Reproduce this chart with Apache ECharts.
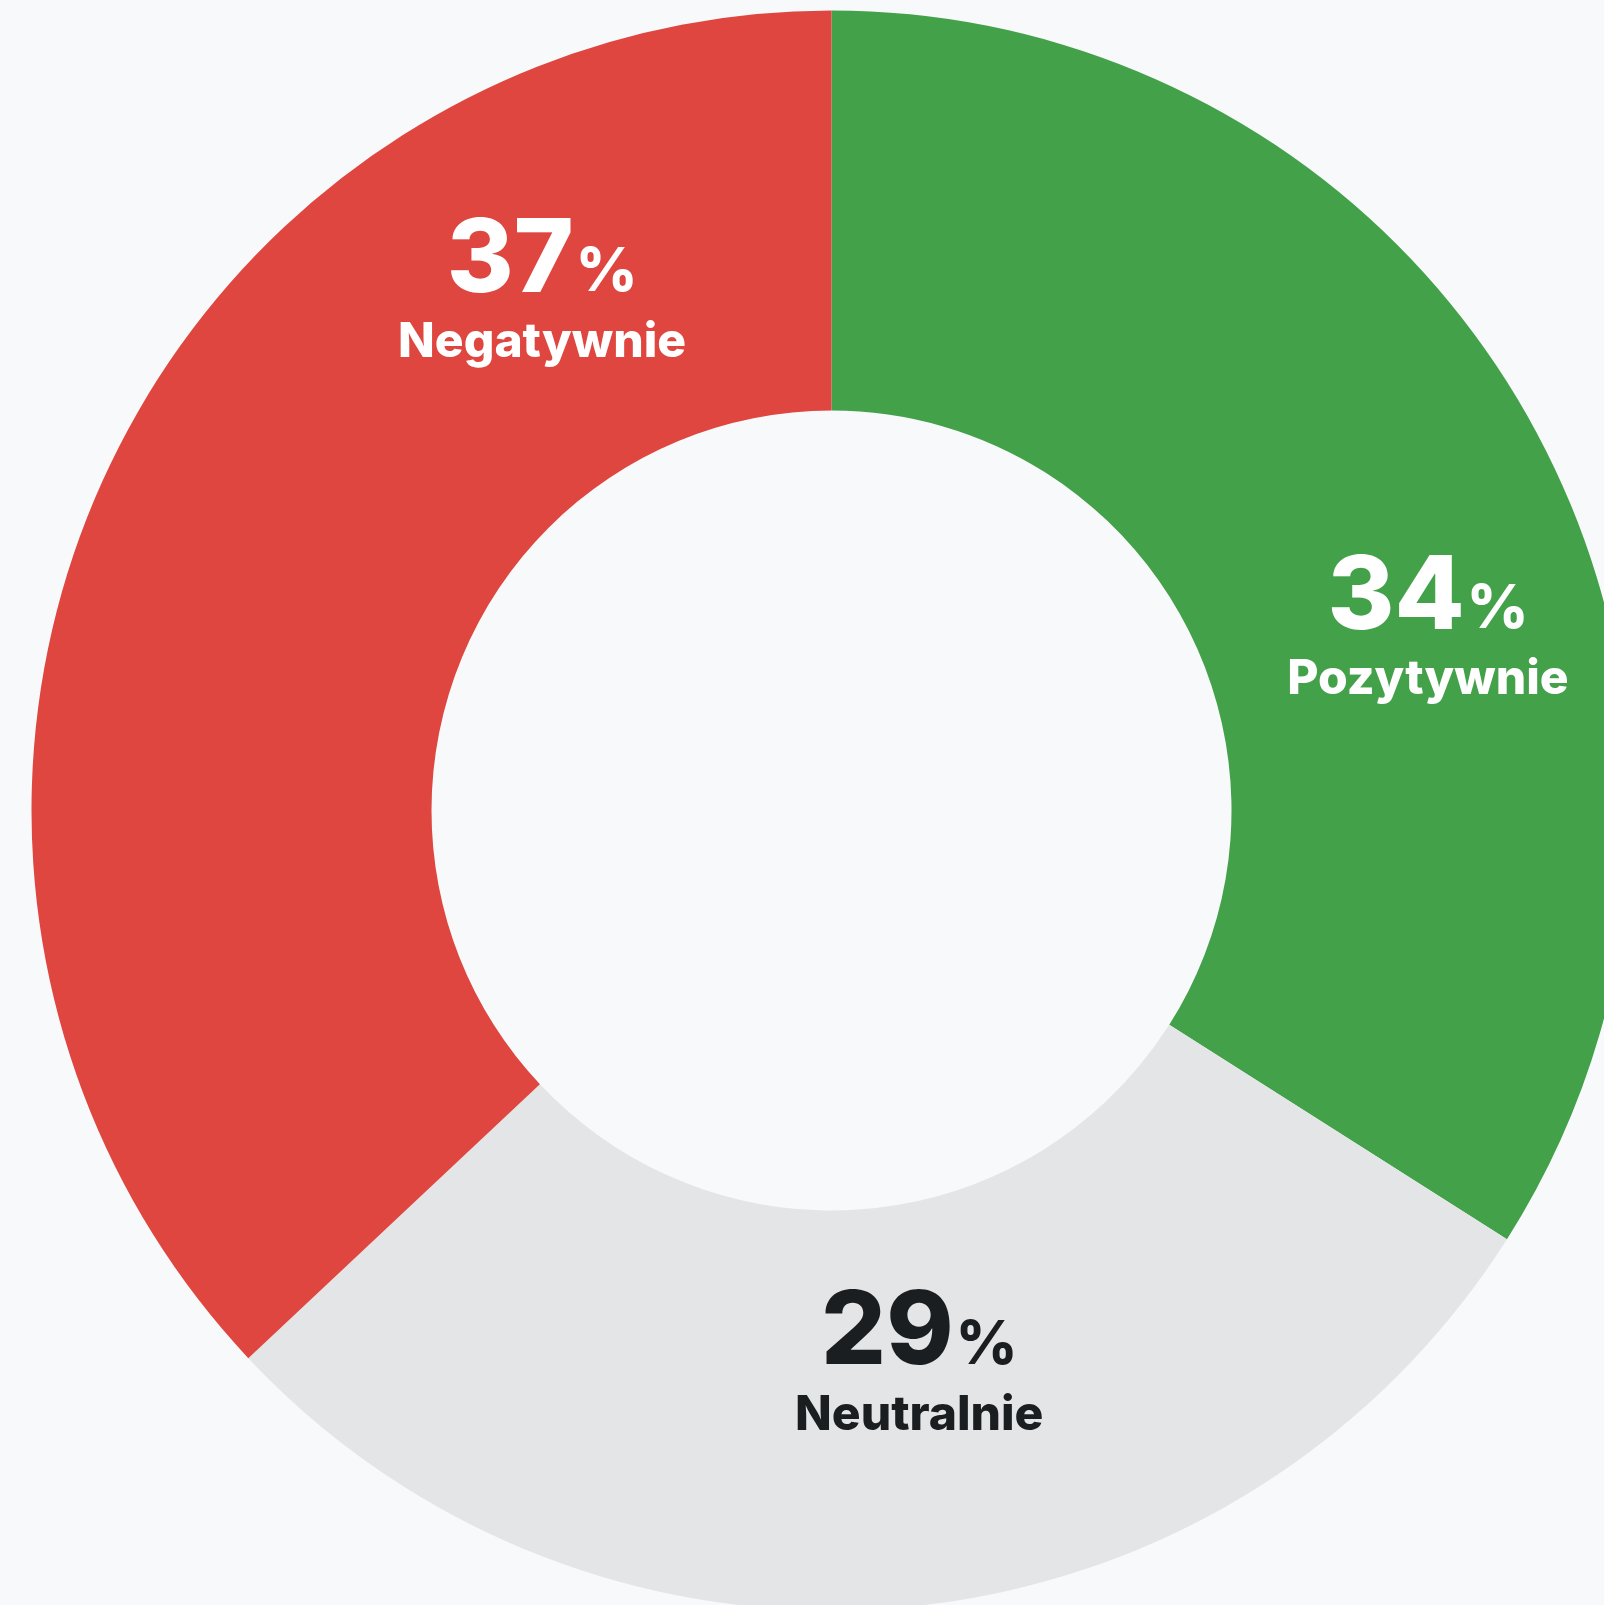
<!DOCTYPE html>
<html>
<head>
<meta charset="utf-8">
<script src="https://cdn.jsdelivr.net/npm/echarts@6/dist/echarts.min.js"></script>
<style>
  html, body { margin: 0; padding: 0; background: #f8f9fa; }
  #chart { width: 1604px; height: 1605px; }
</style>
</head>
<body>
<div id="chart"></div>
<script>
// ---- data ----
const categories = ['Pozytywnie', 'Neutralnie', 'Negatywnie'];
const values = [34, 29, 37];
const colors = ['#43a149', '#e4e5e7', '#df463f'];
const labelColors = ['#ffffff', '#1b1e21', '#ffffff'];

// ---- label placement tweaks (pixels, relative to default inside position) ----
const labelOffsets = [[68, 110], [31, -45], [264, -278]];

const chart = echarts.init(document.getElementById('chart'), null, { renderer: 'canvas' });

const seriesData = categories.map((name, i) => ({
  name: name,
  value: values[i],
  itemStyle: { color: colors[i] },
  label: { color: labelColors[i] }
}));

const font = 'Inter, "Noto Sans", sans-serif';

chart.setOption({
  backgroundColor: '#f8f9fa',
  animation: false,
  series: [{
    type: 'pie',
    center: [831.5, 810.5],
    radius: [400, 800],
    startAngle: 90,
    clockwise: true,
    avoidLabelOverlap: false,
    silent: true,
    data: seriesData,
    label: {
      show: true,
      position: 'inside',
      formatter: p => '{v|' + p.value + '}{p|%}\n{n|' + p.name + '}',
      rich: {
        v: { fontFamily: font, fontWeight: 800, fontSize: 102, lineHeight: 100, verticalAlign: 'bottom' },
        p: { fontFamily: font, fontWeight: 800, fontSize: 60, lineHeight: 100, verticalAlign: 'bottom', padding: [0, 0, 9, 2] },
        n: { fontFamily: font, fontWeight: 800, fontSize: 48, lineHeight: 62 }
      }
    },
    labelLine: { show: false },
    labelLayout: function (params) {
      const o = labelOffsets[params.dataIndex];
      return { dx: o[0], dy: o[1] };
    }
  }]
});
</script>
</body>
</html>
